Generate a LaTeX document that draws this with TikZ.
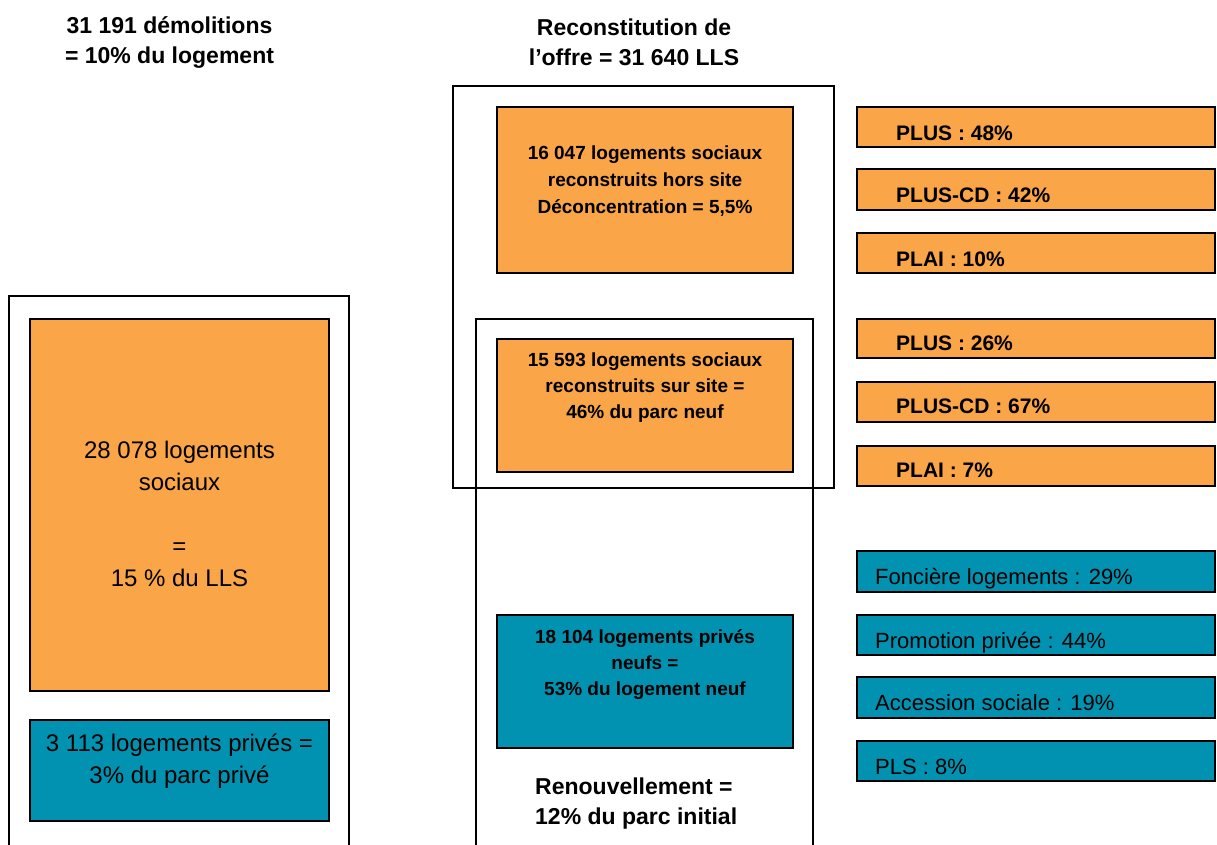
\documentclass[tikz,border=0pt]{standalone}
\usepackage{fontspec}
\setmainfont{Liberation Sans}
\definecolor{orangec}{RGB}{249,165,72}
\definecolor{tealc}{RGB}{0,146,176}
\begin{document}
\begin{tikzpicture}[x=1pt,y=-1pt,
  box/.style={draw=black, line width=1.2pt, inner sep=0pt, outer sep=0pt, anchor=north west},
  obox/.style={box, fill=orangec},
  tbox/.style={box, fill=tealc},
  framebox/.style={box},
  titletext/.style={align=center, inner sep=0pt, font={\fontsize{23}{30}\selectfont\bfseries}},
  bigtext/.style={align=center, inner sep=0pt, font={\fontsize{24}{32}\selectfont}},
  midtext/.style={align=center, inner sep=0pt, font={\fontsize{19}{27}\selectfont\bfseries}},
  rotext/.style={anchor=base west, inner sep=0pt, font={\fontsize{21}{25}\selectfont\bfseries}},
  rttext/.style={anchor=base west, inner sep=0pt, font={\fontsize{22}{26}\selectfont}}
]
\useasboundingbox (0,0) rectangle (1217,844);
\fill[white] (0,0) rectangle (1217,844);

% titles
\node[titletext] (t1) at (169.5,42) {31 191 démolitions\\= 10\% du logement};
\node[titletext] (t2) at (634,42) {Reconstitution de\\l’offre = 31 640 LLS};

% left column
\node[framebox, minimum width=340pt, minimum height=564pt] (lframe) at (9,296) {};
\node[obox, minimum width=299pt, minimum height=372pt] (lo) at (30,319) {};
\node[tbox, minimum width=299pt, minimum height=101pt] (lt) at (30,720) {};
\node[bigtext] (lotext) at (179.5,514) {28 078 logements\\sociaux\\\mbox{}\\=\\15 \% du LLS};
\node[bigtext] (lttext) at (179.5,761) {3 113 logements privés =\\3\% du parc privé};

% middle column
\node[framebox, minimum width=381pt, minimum height=402pt] (fa) at (453,86) {};
\node[framebox, minimum width=337pt, minimum height=541pt] (fb) at (476,319) {};
\node[obox, minimum width=296pt, minimum height=166pt] (m1) at (497,107) {};
\node[obox, minimum width=296pt, minimum height=133pt] (m2) at (497,339) {};
\node[tbox, minimum width=296pt, minimum height=133pt] (m3) at (497,615) {};
\node[midtext] (m1text) at (645,181) {16 047 logements sociaux\\reconstruits hors site\\Déconcentration = 5,5\%};
\node[midtext, font={\fontsize{19}{26}\selectfont\bfseries}] (m2text) at (645,388) {15 593 logements sociaux\\reconstruits sur site =\\46\% du parc neuf};
\node[midtext, font={\fontsize{19}{26}\selectfont\bfseries}] (m3text) at (645,665) {18 104 logements privés\\neufs =\\53\% du logement neuf};
\node[titletext, align=left, anchor=west] (rentext) at (535,804) {Renouvellement =\\12\% du parc initial};

% right column
\node[obox, minimum width=358pt, minimum height=40pt] (r1) at (857,107) {};
\node[obox, minimum width=358pt, minimum height=41pt] (r2) at (857,169) {};
\node[obox, minimum width=358pt, minimum height=40pt] (r3) at (857,233) {};
\node[obox, minimum width=358pt, minimum height=39pt] (r4) at (857,319) {};
\node[obox, minimum width=358pt, minimum height=40pt] (r5) at (857,382) {};
\node[obox, minimum width=358pt, minimum height=40pt] (r6) at (857,446) {};
\node[tbox, minimum width=358pt, minimum height=41pt] (s1) at (857,551) {};
\node[tbox, minimum width=358pt, minimum height=40pt] (s2) at (857,615) {};
\node[tbox, minimum width=358pt, minimum height=41pt] (s3) at (857,677) {};
\node[tbox, minimum width=358pt, minimum height=40pt] (s4) at (857,741) {};

\node[rotext] (r1text) at (896,140) {PLUS : 48\%};
\node[rotext] (r2text) at (896,202) {PLUS-CD : 42\%};
\node[rotext] (r3text) at (896,266) {PLAI : 10\%};
\node[rotext] (r4text) at (896,350) {PLUS : 26\%};
\node[rotext] (r5text) at (896,413) {PLUS-CD : 67\%};
\node[rotext] (r6text) at (896,477) {PLAI : 7\%};
\node[rttext] (s1text) at (875,584) {Foncière logements : 29\%};
\node[rttext] (s2text) at (875,648) {Promotion privée : 44\%};
\node[rttext] (s3text) at (875,710) {Accession sociale : 19\%};
\node[rttext] (s4text) at (875,774) {PLS : 8\%};
\end{tikzpicture}
\end{document}
